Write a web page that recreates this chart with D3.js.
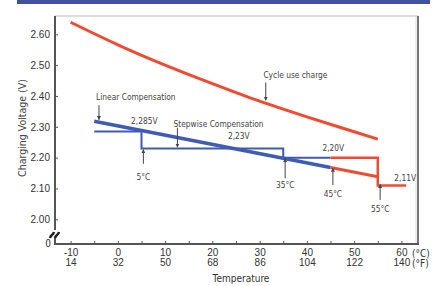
<!DOCTYPE html>
<html>
<head>
<meta charset="utf-8">
<style>
    body { margin: 0; background: #fff; }
    svg { display: block; font-family: 'DejaVu Sans', sans-serif; font-stretch: condensed; }
    .tick text { fill: #333; font-size: 10px; }
    .note { fill: #444; font-size: 8.3px; }
</style>
</head>
<body>
<svg width="441" height="286"></svg>

<script src="https://d3js.org/d3.v7.min.js"></script>
<script>
    // cycle use charge curve
    const cycleTemp = [-10, 0, 10, 20, 30, 40, 50, 55];
    const cycleVolt = [2.639, 2.566, 2.500, 2.440, 2.383, 2.332, 2.284, 2.260];

    // linear compensation (blue part, then red part above 45°C)
    const linearTemp = [-5, 45];
    const linearVolt = [2.318, 2.168];
    const linearHotTemp = [45, 55];
    const linearHotVolt = [2.168, 2.138];

    // stepwise compensation
    const stepTemp = [-5, 5, 5, 35, 35, 45];
    const stepVolt = [2.285, 2.285, 2.23, 2.23, 2.20, 2.20];
    const stepHotTemp = [45, 55, 55, 61];
    const stepHotVolt = [2.20, 2.20, 2.11, 2.11];

    const voltTicks = [2.0, 2.1, 2.2, 2.3, 2.4, 2.5, 2.6];
    const celsiusTicks = [-10, 0, 10, 20, 30, 40, 50, 60];
    const fahrenheitLabels = ["14", "32", "50", "68", "86", "104", "122", "140"];

    const blue = "#3f5bb4";
    const red = "#ef4b32";

    let svg = d3.select("svg");

    let x = d3.scaleLinear().domain([-10, 60]).range([70.6, 401.4]);
    let y = d3.scaleLinear().domain([2.0, 2.6]).range([219.3, 34.3]);

    let left = 55, right = 418, topY = 16, bottom = 244;

    // top banner
    svg.append("rect")
        .attr("x", 17).attr("y", 0)
        .attr("width", 413).attr("height", 4)
        .attr("fill", "#3f51a0");

    // frame
    svg.append("line")
        .attr("x1", left).attr("x2", right).attr("y1", topY).attr("y2", topY)
        .style("stroke", "#bbb").style("stroke-width", 1);
    svg.append("line")
        .attr("x1", right).attr("x2", right).attr("y1", topY).attr("y2", bottom)
        .style("stroke", "#777").style("stroke-width", 2);
    svg.append("line")
        .attr("x1", right - 2).attr("x2", right - 2).attr("y1", topY).attr("y2", bottom)
        .style("stroke", "#ddd").style("stroke-width", 1);

    // y axis
    let yAxis = svg.append("g")
        .attr("transform", `translate(${left},0)`)
        .call(d3.axisLeft(y)
            .tickValues(voltTicks)
            .tickSize(-3)
            .tickPadding(5)
            .tickFormat(d3.format(".2f")));
    yAxis.select(".domain").remove();
    yAxis.selectAll(".tick line").style("stroke", "#555");

    svg.append("text")
        .attr("x", 51).attr("y", 247)
        .attr("text-anchor", "end")
        .style("fill", "#333").style("font-size", "10px")
        .text("0");

    // x axis ticks every 5 degrees
    let xTicks = svg.append("g")
        .attr("transform", `translate(0,${bottom})`)
        .call(d3.axisBottom(x)
            .tickValues(d3.range(-10, 61, 5))
            .tickSize(-3)
            .tickFormat(""));
    xTicks.select(".domain").remove();
    xTicks.selectAll(".tick line").style("stroke", "#555");

    let xC = svg.append("g")
        .attr("transform", `translate(0,${bottom + 3})`)
        .call(d3.axisBottom(x)
            .tickValues(celsiusTicks)
            .tickSize(0)
            .tickPadding(2)
            .tickFormat(d => String(d)));
    xC.select(".domain").remove();

    let xF = svg.append("g")
        .attr("transform", `translate(0,${bottom + 14})`)
        .call(d3.axisBottom(x)
            .tickValues(celsiusTicks)
            .tickSize(0)
            .tickPadding(1)
            .tickFormat((d, i) => fahrenheitLabels[i]));
    xF.select(".domain").remove();

    svg.append("text")
        .attr("x", 412).attr("y", 257)
        .style("fill", "#333").style("font-size", "10px")
        .text("(°C)");
    svg.append("text")
        .attr("x", 412).attr("y", 267)
        .style("fill", "#333").style("font-size", "10px")
        .text("(°F)");

    // axis titles
    svg.append("text")
        .attr("x", 241).attr("y", 282)
        .attr("text-anchor", "middle")
        .style("fill", "#333").style("font-size", "10px")
        .text("Temperature");

    svg.append("text")
        .attr("transform", "translate(26,128) rotate(-90)")
        .attr("text-anchor", "middle")
        .style("fill", "#444").style("font-size", "10.5px")
        .text("Charging Voltage (V)");

    // axis lines
    svg.append("line")
        .attr("x1", left).attr("x2", left).attr("y1", topY).attr("y2", bottom + 1)
        .style("stroke", "#555").style("stroke-width", 2);
    svg.append("line")
        .attr("x1", left - 1).attr("x2", right + 1).attr("y1", bottom).attr("y2", bottom)
        .style("stroke", "#555").style("stroke-width", 2);

    // axis break mark
    svg.append("rect")
        .attr("x", 52).attr("y", 230).attr("width", 6).attr("height", 8)
        .attr("fill", "#fff");
    svg.append("path")
        .attr("d", "M50,238 C51,234 53,236 54,232 M55,238 C56,234 58,236 59,232")
        .style("fill", "none").style("stroke", "#222").style("stroke-width", 2.6);

    // lines
    let line = d3.line()
        .x(d => x(d[0]))
        .y(d => y(d[1]));

    let zipped = (t, v) => t.map((d, i) => [d, v[i]]);

    svg.append("path")
        .attr("d", line.curve(d3.curveMonotoneX)(zipped(cycleTemp, cycleVolt)))
        .style("fill", "none").style("stroke", red).style("stroke-width", 3);

    line.curve(d3.curveLinear);

    svg.append("path")
        .attr("d", line(zipped(stepTemp, stepVolt)))
        .style("fill", "none").style("stroke", blue).style("stroke-width", 2);

    svg.append("path")
        .attr("d", line(zipped(linearTemp, linearVolt)))
        .style("fill", "none").style("stroke", blue).style("stroke-width", 3.5);

    svg.append("path")
        .attr("d", line(zipped(stepHotTemp, stepHotVolt)))
        .style("fill", "none").style("stroke", red).style("stroke-width", 2.5);

    svg.append("path")
        .attr("d", line(zipped(linearHotTemp, linearHotVolt)))
        .style("fill", "none").style("stroke", red).style("stroke-width", 3);

    // arrows
    svg.append("defs").append("marker")
        .attr("id", "head")
        .attr("viewBox", "0 0 10 10")
        .attr("refX", 9).attr("refY", 5)
        .attr("markerWidth", 4).attr("markerHeight", 5)
        .attr("markerUnits", "userSpaceOnUse")
        .attr("orient", "auto")
        .append("path")
        .attr("d", "M0,0 L10,5 L0,10 Z")
        .attr("fill", "#444");

    function arrow(px, y1, y2) {
        svg.append("line")
            .attr("x1", px).attr("x2", px)
            .attr("y1", y1).attr("y2", y2)
            .style("stroke", "#444").style("stroke-width", 1)
            .attr("marker-end", "url(#head)");
    }

    function note(px, py, txt, anchor) {
        svg.append("text")
            .attr("class", "note")
            .attr("x", px).attr("y", py)
            .attr("text-anchor", anchor || "start")
            .text(txt);
    }

    // top callouts (arrow pointing down onto a line)
    note(x(-4.6), y(2.386), "Linear Compensation");
    arrow(x(-4), y(2.37), y(2.323));
    note(x(5.6), y(2.31), "2,285V", "middle");
    note(x(11.8), y(2.30), "Stepwise Compensation");
    arrow(x(12.6), y(2.297), y(2.234));
    note(x(25.6), y(2.262), "2,23V", "middle");
    note(x(30.8), y(2.457), "Cycle use charge");
    arrow(x(31.3), y(2.444), y(2.386));
    note(x(45.6), y(2.221), "2,20V", "middle");
    note(x(60.8), y(2.124), "2,11V", "middle");

    // bottom callouts (arrow pointing up)
    arrow(x(5.4), y(2.180), y(2.226));
    note(x(5.4), y(2.127), "5°C", "middle");
    arrow(x(35.4), y(2.133), y(2.197));
    note(x(35.4), y(2.101), "35°C", "middle");
    arrow(x(45.5), y(2.111), y(2.166));
    note(x(45.5), y(2.072), "45°C", "middle");
    arrow(x(55.5), y(2.063), y(2.113));
    note(x(55.5), y(2.025), "55°C", "middle");
</script>
</body>
</html>
